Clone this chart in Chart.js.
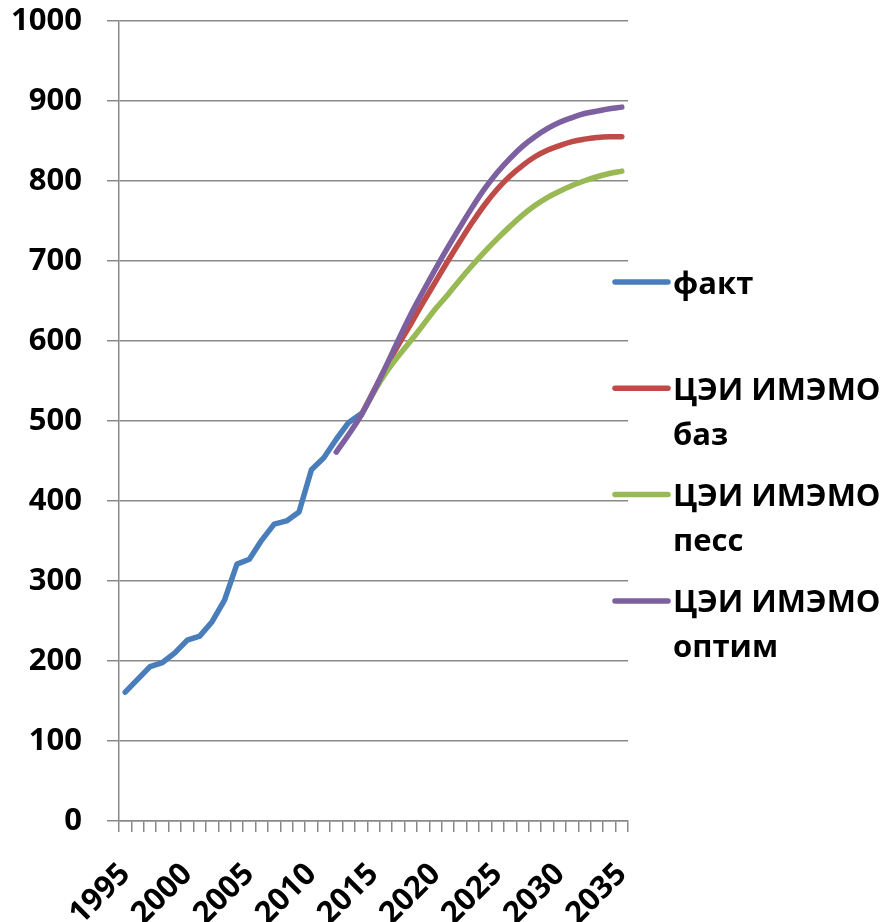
<!DOCTYPE html>
<html lang="ru">
<head>
<meta charset="utf-8">
<title>Прогноз: факт и сценарии ЦЭИ ИМЭМО</title>
<script src="https://cdn.jsdelivr.net/npm/chart.js@4/dist/chart.umd.min.js"></script>
<style>
  html, body { margin: 0; padding: 0; background: #ffffff; }
  #wrap { position: relative; width: 887px; height: 922px; overflow: hidden; }
</style>
</head>
<body>
<div id="wrap"><canvas id="chart" width="887" height="922"></canvas></div>
<script>
// Years on the category axis
const years = [
  1995, 1996, 1997, 1998, 1999, 2000, 2001, 2002, 2003, 2004,
  2005, 2006, 2007, 2008, 2009, 2010, 2011, 2012, 2013, 2014,
  2015, 2016, 2017, 2018, 2019, 2020, 2021, 2022, 2023, 2024,
  2025, 2026, 2027, 2028, 2029, 2030, 2031, 2032, 2033, 2034, 2035
];

// Actual values, 1995–2014
const fact = [
  161, 177, 193, 198, 210, 226, 231, 249, 276, 321,
  327, 351, 371, 375, 386, 439, 454, 477, 498, 509
];

// Scenario forecasts (base from 2014, pessimistic from 2014, optimistic from 2012)
const base = [
  507, 537, 567, 595, 621, 648, 674, 700, 725, 749, 771,
  790, 806, 819, 830, 838, 844, 849, 852, 854, 855, 855
];
const pess = [
  507, 535, 560, 581, 600, 620, 640, 658, 677, 695, 712,
  728, 743, 757, 769, 779, 787, 794, 800, 805, 809, 812
];
const optim = [
  461, 483, 507, 536, 568, 601, 633, 662, 690, 717, 743, 768,
  791, 811, 828, 843, 855, 865, 873, 879, 884, 887, 890, 892
];

// Y axis ticks
const yTicks = [0, 100, 200, 300, 400, 500, 600, 700, 800, 900, 1000];

// Series names, split into the lines shown in the legend
const seriesNames = [
  ['факт'],
  ['ЦЭИ ИМЭМО', 'баз'],
  ['ЦЭИ ИМЭМО', 'песс'],
  ['ЦЭИ ИМЭМО', 'оптим']
];
const seriesColors = ['#4A7EBB', '#BE4B48', '#98B954', '#7D60A0'];

// Place a series on the full year axis, starting at a given year
function alignToYears(values, startYear) {
  const out = years.map(() => null);
  const offset = years.indexOf(startYear);
  values.forEach((v, i) => { out[offset + i] = v; });
  return out;
}

const FONT = 'Open Sans';
const GRID = '#898989';

// Legend drawn to the right of the plot, one entry per series
const sideLegend = {
  id: 'sideLegend',
  afterDraw(chart) {
    const ctx = chart.ctx;
    const area = chart.chartArea;
    const x0 = area.right - 13;
    const x1 = x0 + 53;
    const tx = x1 + 5;
    const firstY = 282;
    const step = 106.3;
    ctx.save();
    chart.data.datasets.forEach((ds, i) => {
      const y = firstY + i * step;
      ctx.beginPath();
      ctx.strokeStyle = ds.borderColor;
      ctx.lineWidth = 5.5;
      ctx.lineCap = 'round';
      ctx.moveTo(x0, y);
      ctx.lineTo(x1, y);
      ctx.stroke();
      ctx.fillStyle = '#000000';
      ctx.font = 'bold 31px "' + FONT + '"';
      ctx.textAlign = 'left';
      ctx.textBaseline = 'alphabetic';
      seriesNames[i].forEach((line, k) => {
        ctx.fillText(line, tx, y + 11.5 + k * 45);
      });
    });
    ctx.restore();
  }
};

const lineStyle = (color, smooth) => ({
  borderColor: color,
  backgroundColor: color,
  borderWidth: 5.5,
  borderCapStyle: 'round',
  borderJoinStyle: 'round',
  pointRadius: 0,
  pointHoverRadius: 0,
  tension: smooth ? 0.4 : 0,
  fill: false,
  spanGaps: false
});

new Chart(document.getElementById('chart'), {
  type: 'line',
  data: {
    labels: years,
    datasets: [
      { label: seriesNames[0].join(' '), data: alignToYears(fact, 1995), order: 4, ...lineStyle(seriesColors[0], false) },
      { label: seriesNames[1].join(' '), data: alignToYears(base, 2014), order: 3, ...lineStyle(seriesColors[1], true) },
      { label: seriesNames[2].join(' '), data: alignToYears(pess, 2014), order: 2, ...lineStyle(seriesColors[2], true) },
      { label: seriesNames[3].join(' '), data: alignToYears(optim, 2012), order: 1, ...lineStyle(seriesColors[3], true) }
    ]
  },
  options: {
    responsive: false,
    animation: false,
    devicePixelRatio: 1,
    layout: { padding: { left: 0, right: 259, top: 0, bottom: 0 } },
    plugins: {
      legend: { display: false },
      tooltip: { enabled: false },
      title: { display: false }
    },
    scales: {
      x: {
        type: 'category',
        offset: true,
        grid: {
          offset: true,
          drawOnChartArea: false,
          drawTicks: true,
          tickLength: 11,
          color: GRID,
          lineWidth: 1.5
        },
        border: { display: true, color: GRID, width: 1.5 },
        ticks: {
          autoSkip: false,
          maxRotation: 45,
          minRotation: 45,
          padding: 24,
          color: '#000000',
          font: { family: FONT, size: 31, weight: 'bold' },
          callback: function (value, index) {
            const y = years[index];
            return y % 5 === 0 ? String(y) : '';
          }
        },
        afterFit(scale) { scale.height = 101; }
      },
      y: {
        min: yTicks[0],
        max: yTicks[yTicks.length - 1],
        afterBuildTicks(scale) { scale.ticks = yTicks.map(v => ({ value: v })); },
        grid: {
          drawOnChartArea: true,
          drawTicks: true,
          tickLength: 12,
          color: GRID,
          lineWidth: 1.5
        },
        border: { display: true, color: GRID, width: 1.5 },
        ticks: {
          padding: 25,
          color: '#000000',
          font: { family: FONT, size: 31, weight: 'bold' },
          callback: (value) => String(value)
        },
        afterFit(scale) {
          scale.width = 119;
          scale.paddingTop = 20.7;
          scale.paddingBottom = 0;
        }
      }
    }
  },
  plugins: [sideLegend]
});
</script>
</body>
</html>
